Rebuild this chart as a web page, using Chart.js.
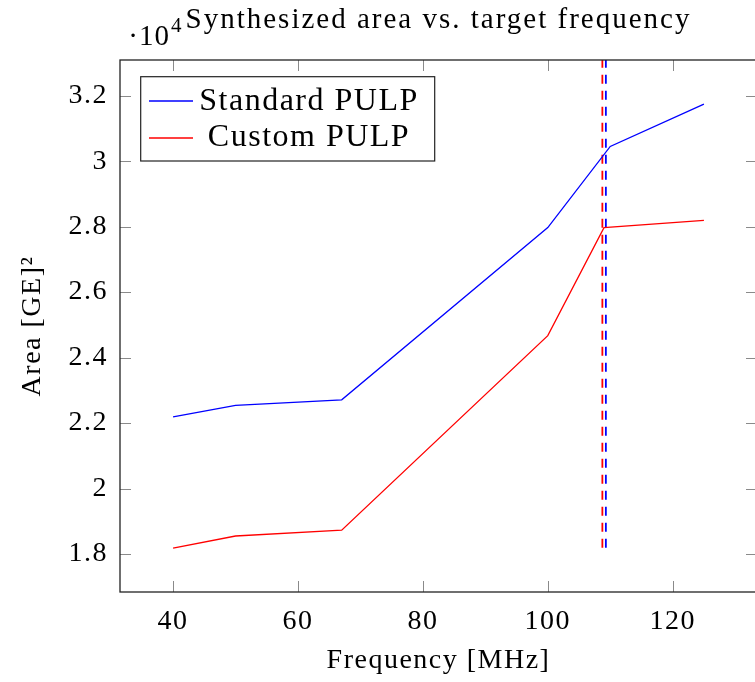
<!DOCTYPE html>
<html><head><meta charset="utf-8">
<script src="https://cdn.jsdelivr.net/npm/chart.js@4"></script>
<style>
html,body{margin:0;padding:0;overflow:hidden;background:#fff;width:755px;height:682px}
#wrap{width:765px;height:682px}
</style></head>
<body><div id="wrap"><canvas id="c" width="765" height="682"></canvas></div>
<script>
// ---- data (area in GE) ----
const stdFreq   = [40, 50, 67, 100, 110, 125];
const stdArea   = [22190, 22540, 22710, 27970, 30450, 31740];
const custFreq  = [40, 50, 67, 100, 109, 125];
const custArea  = [18180, 18550, 18730, 24670, 27970, 28190];
const stdLimitFreq  = 109.3;
const custLimitFreq = 108.74;
const limitSpan = [18190, 34000];
const xTicks = [40, 60, 80, 100, 120];
const yTicks = [18000, 20000, 22000, 24000, 26000, 28000, 30000, 32000];
const seriesNames = ['Standard PULP', 'Custom PULP'];
const titleText = 'Synthesized area vs. target frequency';
const xTitle = 'Frequency [MHz]';
const yTitle = 'Area [GE]\u00B2';

const FONT = "'Liberation Serif', 'Times New Roman', serif";
Chart.defaults.font.family = FONT;
Chart.defaults.color = '#000';

const pts = (xs, ys) => xs.map((x, i) => ({x, y: ys[i]}));

const frame = {
  id: 'frame',
  beforeLayout(chart) { chart.ctx.letterSpacing = '1.5px'; },
  beforeDraw(chart) { chart.ctx.letterSpacing = '1.5px'; },
  afterDatasetsDraw(chart) {
    const {ctx, chartArea: a, scales: {x, y}} = chart;
    ctx.save();
    ctx.strokeStyle = '#8a8a8a';
    ctx.lineWidth = 1;
    const L = 11;
    xTicks.forEach(v => {
      const px = Math.round(x.getPixelForValue(v)) + 0.5;
      ctx.beginPath();
      ctx.moveTo(px, a.bottom); ctx.lineTo(px, a.bottom - L);
      ctx.moveTo(px, a.top); ctx.lineTo(px, a.top + L);
      ctx.stroke();
    });
    yTicks.forEach(v => {
      const py = Math.round(y.getPixelForValue(v)) + 0.5;
      ctx.beginPath();
      ctx.moveTo(a.left, py); ctx.lineTo(a.left + L, py);
      ctx.moveTo(a.right, py); ctx.lineTo(a.right - L, py);
      ctx.stroke();
    });
    ctx.strokeStyle = '#222';
    ctx.lineWidth = 1.3;
    ctx.strokeRect(a.left, a.top, a.right - a.left, a.bottom - a.top);
    ctx.restore();
  },
  afterDraw(chart) {
    const {ctx, chartArea: a} = chart;
    ctx.save();
    // legend
    const bx = 140.7, by = 76.7, bw = 294, bh = 84.3;
    ctx.fillStyle = '#fff';
    ctx.fillRect(bx, by, bw, bh);
    ctx.strokeStyle = '#222';
    ctx.lineWidth = 1.2;
    ctx.strokeRect(bx, by, bw, bh);
    const rows = [101, 138];
    const base = [110, 146];
    ctx.font = "32px " + FONT;
    ctx.letterSpacing = '1.5px';
    ctx.fillStyle = '#000';
    ctx.textAlign = 'center';
    ctx.textBaseline = 'alphabetic';
    [0, 1].forEach(i => {
      const ds = chart.data.datasets[i];
      ctx.strokeStyle = ds.borderColor;
      ctx.lineWidth = 1.3;
      ctx.beginPath();
      ctx.moveTo(149, rows[i]); ctx.lineTo(193, rows[i]);
      ctx.stroke();
      ctx.fillText(ds.label, 309, base[i]);
    });
    // title
    ctx.font = "29px " + FONT;
    ctx.letterSpacing = '2px';
    ctx.textAlign = 'center';
    ctx.fillText(titleText, (a.left + a.right) / 2, 28);
    // exponent
    ctx.letterSpacing = '1px';
    ctx.textAlign = 'right';
    ctx.font = "29px " + FONT;
    ctx.fillText('\u00B710', 170, 45);
    ctx.textAlign = 'left';
    ctx.font = "21px " + FONT;
    ctx.fillText('4', 171, 32);
    ctx.restore();
  }
};

new Chart(document.getElementById('c'), {
  type: 'line',
  data: {
    datasets: [
      {label: seriesNames[0], data: pts(stdFreq, stdArea), borderColor: '#0000ff', borderWidth: 1.3, pointRadius: 0, tension: 0, fill: false},
      {label: seriesNames[1], data: pts(custFreq, custArea), borderColor: '#ff0000', borderWidth: 1.3, pointRadius: 0, tension: 0, fill: false},
      {label: 'limit custom', data: pts([custLimitFreq, custLimitFreq], limitSpan), borderColor: '#ff0000', borderWidth: 1.8, borderDash: [9, 7], pointRadius: 0, fill: false},
      {label: 'limit standard', data: pts([stdLimitFreq, stdLimitFreq], limitSpan), borderColor: '#0000ff', borderWidth: 1.8, borderDash: [9, 7], pointRadius: 0, fill: false}
    ]
  },
  options: {
    responsive: false,
    animation: false,
    devicePixelRatio: 1,
    layout: {padding: {top: 60, right: 8, left: 0, bottom: 0}},
    plugins: {legend: {display: false}, title: {display: false}, tooltip: {enabled: false}},
    scales: {
      x: {
        type: 'linear', min: 31.5, max: 133.5,
        afterBuildTicks: s => { s.ticks = xTicks.map(v => ({value: v})); },
        afterFit: s => { s.height = 90; },
        grid: {display: false, drawTicks: false},
        border: {display: false},
        ticks: {font: {size: 28}, padding: 13, maxRotation: 0, color: '#000'},
        title: {display: true, text: xTitle, font: {size: 28, lineHeight: 1.2}, padding: {top: 0, bottom: 5}, color: '#000'}
      },
      y: {
        type: 'linear', min: 16840, max: 33090,
        afterBuildTicks: s => { s.ticks = yTicks.map(v => ({value: v})); },
        afterFit: s => { s.width = 120; },
        grid: {display: false, drawTicks: false},
        border: {display: false},
        ticks: {font: {size: 28}, padding: 12, color: '#000', callback: v => String(v / 10000)},
        title: {display: true, text: yTitle, font: {size: 28, lineHeight: 1.2}, padding: {top: 16, bottom: 0}, color: '#000'}
      }
    }
  },
  plugins: [frame]
});
</script>
</body></html>
